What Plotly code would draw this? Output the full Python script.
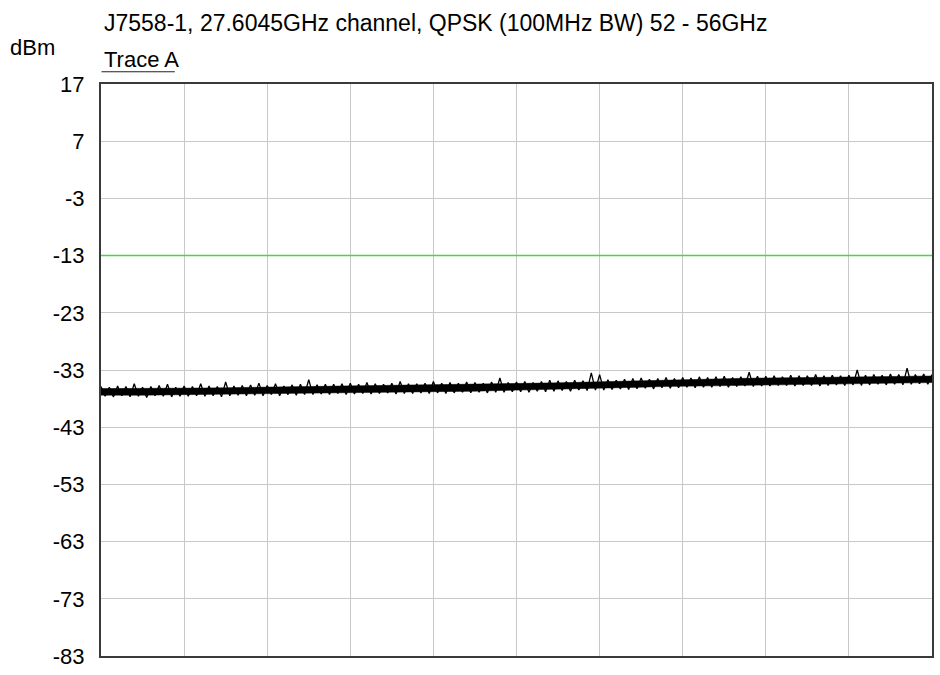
import numpy as np
import plotly.graph_objects as go

# ---- data ----
title_text = "J7558-1, 27.6045GHz channel, QPSK (100MHz BW) 52 - 56GHz"
y_unit = "dBm"
trace_name = "Trace A"

y_ticks = [17, 7, -3, -13, -23, -33, -43, -53, -63, -73, -83]
x_start, x_stop = 52.0, 56.0          # GHz sweep
sweep_points = 201
limit_line = -13.0                    # dBm (green)

# solid core of the noise floor, every 0.1 GHz
freq = [52.0, 52.1, 52.2, 52.3, 52.4, 52.5, 52.6, 52.7, 52.8, 52.9,
        53.0, 53.1, 53.2, 53.3, 53.4, 53.5, 53.6, 53.7, 53.8, 53.9,
        54.0, 54.1, 54.2, 54.3, 54.4, 54.5, 54.6, 54.7, 54.8, 54.9,
        55.0, 55.1, 55.2, 55.3, 55.4, 55.5, 55.6, 55.7, 55.8, 55.9, 56.0]
upper = [-36.25, -36.25, -36.25, -36.25, -36.2, -36.15, -36.1, -36.05, -36.0, -35.95,
         -35.9, -35.85, -35.8, -35.75, -35.75, -35.7, -35.65, -35.6, -35.55, -35.5,
         -35.45, -35.35, -35.25, -35.15, -35.05, -34.95, -34.85, -34.75, -34.65, -34.6,
         -34.55, -34.45, -34.4, -34.35, -34.35, -34.3, -34.25, -34.2, -34.15, -34.1, -34.05]
lower = [-37.4, -37.4, -37.4, -37.4, -37.35, -37.3, -37.25, -37.2, -37.15, -37.1,
         -37.05, -37.0, -36.95, -36.9, -36.9, -36.85, -36.8, -36.75, -36.7, -36.65,
         -36.6, -36.5, -36.4, -36.3, -36.2, -36.1, -36.0, -35.9, -35.8, -35.75,
         -35.7, -35.6, -35.55, -35.5, -35.5, -35.45, -35.4, -35.35, -35.3, -35.25, -35.2]

# Trace A sample values (dBm), one per sweep point
trace_a = [
    -35.9, -37.6, -36.0, -37.7, -35.8,   -37.5, -35.9, -37.7, -35.4, -37.6,
    -36.0, -37.8, -35.9, -37.5, -35.7,   -37.6, -35.5, -37.7, -36.0, -37.6,
    -35.8, -37.6, -35.9, -37.5, -35.4,   -37.6, -35.8, -37.5, -35.9, -37.7,
    -35.1, -37.5, -35.8, -37.4, -35.7,   -37.5, -35.6, -37.4, -35.3, -37.5,
    -35.7, -37.3, -35.4, -37.5, -35.8,   -37.3, -35.6, -37.4, -35.5, -37.3,
    -34.7, -37.3, -35.6, -37.2, -35.5,   -37.3, -35.5, -37.1, -35.4, -37.3,
    -35.3, -37.2, -35.5, -37.1, -35.2,   -37.2, -35.4, -37.1, -35.5, -37.0,
    -35.3, -37.2, -35.0, -37.1, -35.4,   -37.1, -35.4, -37.0, -35.3, -37.1,
    -35.0, -37.0, -35.3, -37.1, -35.2,   -37.0, -35.3, -36.9, -35.1, -37.0,
    -35.2, -36.9, -35.3, -37.0, -35.1,   -36.9, -34.4, -36.9, -35.2, -36.8,
    -35.1, -36.8, -35.0, -36.9, -35.2,   -36.7, -35.0, -36.8, -34.8, -36.7,
    -34.9, -36.6, -35.0, -36.7, -34.8,   -36.5, -34.9, -36.6, -33.5, -36.5,
    -33.8, -36.5, -34.7, -36.4, -34.8,   -36.3, -34.6, -36.4, -34.5, -36.3,
    -34.4, -36.2, -34.6, -36.3, -34.5,   -36.1, -34.3, -36.2, -34.5, -36.1,
    -34.3, -36.0, -34.4, -36.1, -34.2,   -36.0, -34.3, -36.0, -34.2, -35.9,
    -34.1, -36.0, -34.3, -35.9, -34.2,   -35.8, -33.4, -35.9, -34.1, -35.8,
    -34.1, -35.8, -34.0, -35.7, -34.2,   -35.7, -33.9, -35.8, -34.0, -35.7,
    -34.0, -35.7, -33.8, -35.8, -34.0,   -35.7, -33.9, -35.6, -34.0, -35.7,
    -33.9, -35.6, -33.0, -35.7, -33.9,   -35.6, -33.8, -35.5, -33.9, -35.6,
    -33.7, -35.5, -33.8, -35.6, -32.7,   -35.5, -33.8, -35.4, -33.7, -35.5,
    -33.8,
]

# ---- figure ----
FONT = "Liberation Sans, Arial, sans-serif"
sweep_f = np.linspace(x_start, x_stop, sweep_points)

fig = go.Figure()

# solid core of the noise band
fig.add_trace(go.Scatter(
    x=freq + freq[::-1], y=upper + lower[::-1],
    fill="toself", fillcolor="black", mode="lines",
    line=dict(color="black", width=0.5), hoverinfo="skip", showlegend=False))

# noisy trace
fig.add_trace(go.Scatter(x=sweep_f, y=trace_a, mode="lines",
                         line=dict(color="black", width=1.3),
                         hoverinfo="skip", showlegend=False))

# limit line
fig.add_trace(go.Scatter(x=[x_start, x_stop], y=[limit_line, limit_line],
                         mode="lines", line=dict(color="#3fdc3f", width=1.5),
                         hoverinfo="skip", showlegend=False))

fig.update_layout(
    width=940, height=675,
    margin=dict(l=101, r=6, t=84, b=16),
    paper_bgcolor="white", plot_bgcolor="white",
    font=dict(family=FONT, size=22, color="black"),
    showlegend=False,
)
fig.update_xaxes(range=[x_start, x_stop], dtick=0.4, tick0=x_start,
                 showticklabels=False, ticks="",
                 showgrid=True, gridcolor="#c8c8c8", gridwidth=1,
                 showline=True, mirror=True, linecolor="#3a3a3a", linewidth=2,
                 zeroline=False)
fig.update_yaxes(range=[-83, 17], tickvals=y_ticks,
                 ticktext=[str(t) for t in y_ticks], ticks="",
                 ticklabelstandoff=10,
                 tickfont=dict(family=FONT, size=22, color="black"),
                 showgrid=True, gridcolor="#c8c8c8", gridwidth=1,
                 showline=True, mirror=True, linecolor="#3a3a3a", linewidth=2,
                 zeroline=False)

def py(px):  # pixel row -> paper y
    return (658.7 - px) / 574.7

def pxx(px):  # pixel column -> paper x
    return (px - 101) / 833.0

fig.add_annotation(text=title_text, xref="paper", yref="paper",
                   x=pxx(102), y=py(23), xanchor="left", yanchor="middle",
                   showarrow=False, font=dict(family=FONT, size=23, color="black"))
fig.add_annotation(text=y_unit, xref="paper", yref="paper",
                   x=pxx(8), y=py(47), xanchor="left", yanchor="middle",
                   showarrow=False, font=dict(family=FONT, size=22, color="black"))
fig.add_annotation(text=trace_name, xref="paper", yref="paper",
                   x=pxx(102), y=py(59), xanchor="left", yanchor="middle",
                   showarrow=False, font=dict(family=FONT, size=22, color="black"))
fig.add_shape(type="line", xref="paper", yref="paper",
              x0=pxx(101.5), x1=pxx(175), y0=py(71.7), y1=py(71.7),
              line=dict(color="#222222", width=1))

fig.write_html("out.html")
